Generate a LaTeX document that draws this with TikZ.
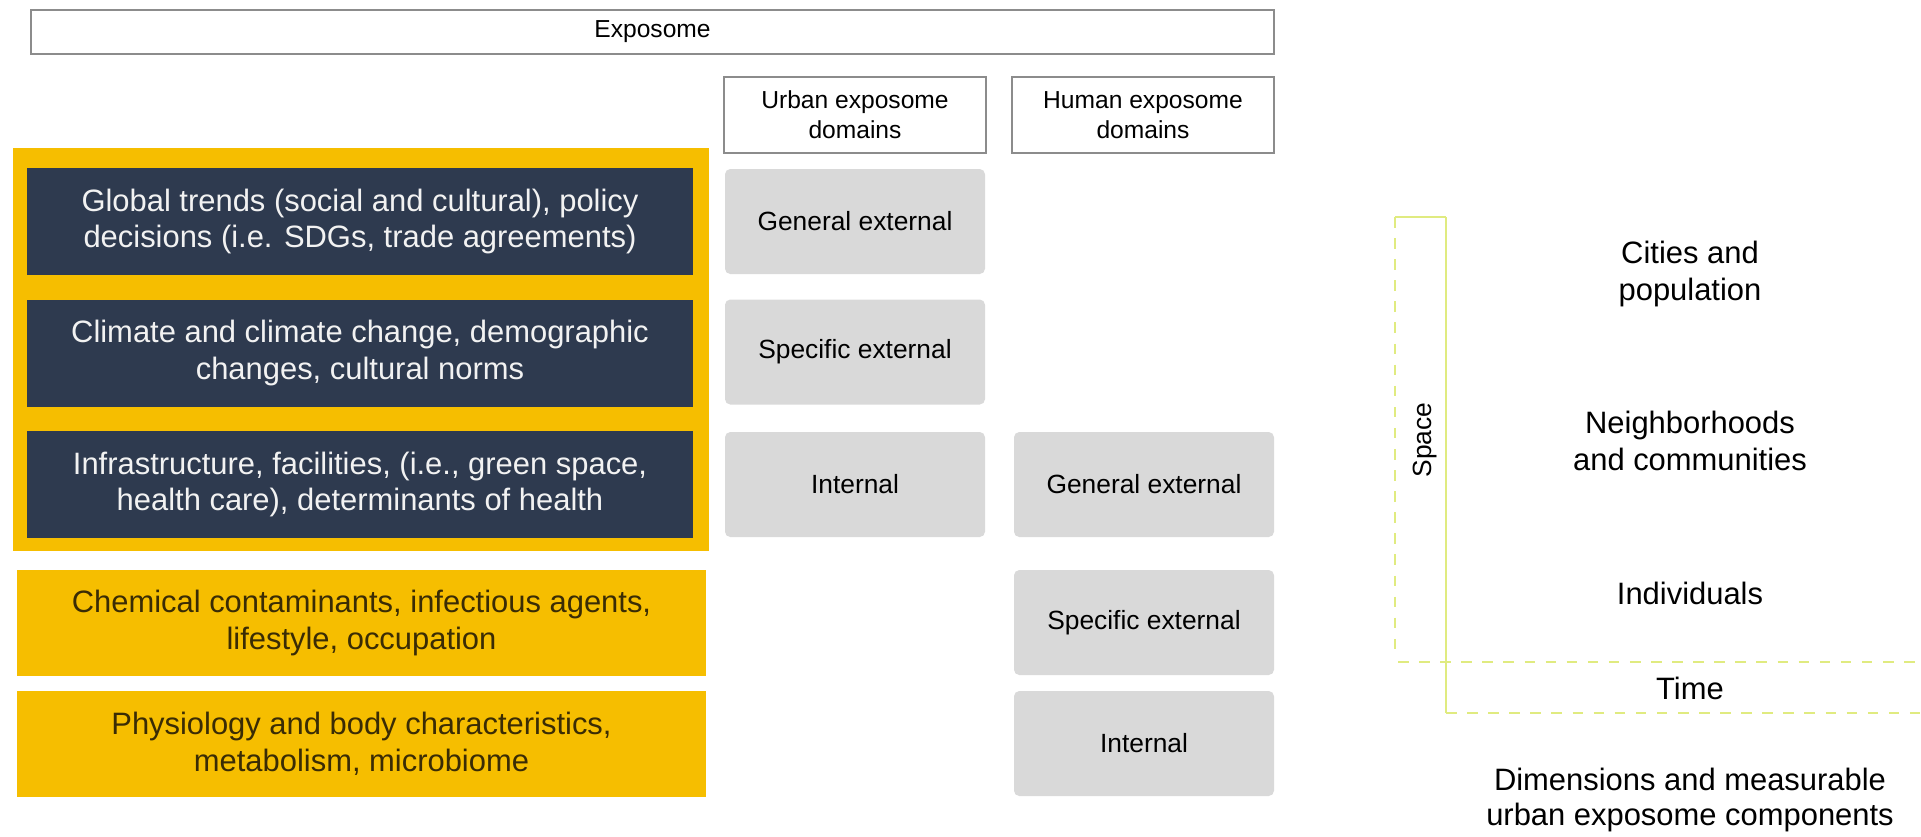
\documentclass[tikz,border=0pt]{standalone}
\usepackage{fontspec}
\setmainfont{Liberation Sans}
\definecolor{navy}{HTML}{2E3A4F}
\definecolor{gold}{HTML}{F6BE00}
\definecolor{boxgray}{HTML}{D9D9D9}
\definecolor{goldtext}{HTML}{3A2C05}
\definecolor{axisgreen}{HTML}{E0EB80}

\begin{document}
\begin{tikzpicture}[
		every node/.style={font=\fontsize{8.8}{10.5}\selectfont, align=center, inner sep=0pt},
		outline/.style={draw=gray!90, line width=0.5pt, fill=white},
		header/.style={outline, minimum width=2.62cm, minimum height=0.76cm, font=\fontsize{7}{8.6}\selectfont},
		darkbox/.style={fill=navy, text=white!90!gray, minimum width=6.66cm, minimum height=1.07cm},
		goldbox/.style={fill=gold, text=goldtext, minimum width=6.89cm, minimum height=1.06cm},
		graybox/.style={fill=boxgray, rounded corners=1.5pt, minimum width=2.6cm, minimum height=1.05cm, font=\fontsize{7.5}{9}\selectfont},
		axisline/.style={draw=axisgreen, line width=0.8pt}
	]
		\useasboundingbox (0,0) rectangle (19.21,-8.36);
		% top row
		\node[outline, minimum width=12.43cm, minimum height=0.44cm, font=\fontsize{7}{8.6}\selectfont] (expo) at (6.525,-0.32) {Exposome};
		\node[header] (urbanhead) at (8.55,-1.15) {Urban exposome\\domains};
		\node[header] (humanhead) at (11.43,-1.15) {Human exposome\\domains};
		% gold frame round the three dark rows
		\fill[gold] (0.13,-1.48) rectangle (7.09,-5.51);
		\node[darkbox] (global) at (3.60,-2.215) {Global trends (social and cultural), policy\\decisions (i.e. SDGs, trade agreements)};
		\node[darkbox] (climate) at (3.60,-3.53) {Climate and climate change, demographic\\changes, cultural norms};
		\node[darkbox] (infra) at (3.60,-4.845) {Infrastructure, facilities, (i.e., green space,\\health care), determinants of health};
		\node[goldbox] (chem) at (3.615,-6.23) {Chemical contaminants, infectious agents,\\lifestyle, occupation};
		\node[goldbox] (physio) at (3.615,-7.435) {Physiology and body characteristics,\\metabolism, microbiome};
		% domain columns
		\node[graybox] (ugeneral) at (8.55,-2.215) {General external};
		\node[graybox] (uspecific) at (8.55,-3.52) {Specific external};
		\node[graybox] (uinternal) at (8.55,-4.845) {Internal};
		\node[graybox] (hgeneral) at (11.44,-4.845) {General external};
		\node[graybox] (hspecific) at (11.44,-6.225) {Specific external};
		\node[graybox] (hinternal) at (11.44,-7.435) {Internal};
		% space and time axes
		\draw[axisline, dashed] (13.95,-2.17)--(13.95,-6.55);
		\draw[axisline] (13.95,-2.17)--(14.46,-2.17);
		\draw[axisline] (14.46,-2.17)--(14.46,-7.13);
		\draw[axisline, dashed] (13.98,-6.62)--(19.21,-6.62);
		\draw[axisline, dashed] (14.46,-7.13)--(19.21,-7.13);
		\node[rotate=90, font=\fontsize{7.5}{9}\selectfont] (space) at (14.25,-4.40) {Space};
		\node (cities) at (16.90,-2.74) {Cities and\\population};
		\node (neigh) at (16.90,-4.41) {Neighborhoods\\and communities};
		\node (indiv) at (16.90,-5.93) {Individuals};
		\node (time) at (16.90,-6.88) {Time};
		\node[font=\fontsize{8.8}{9.8}\selectfont] (dims) at (16.90,-8.00) {Dimensions and measurable\\urban exposome components};
	\end{tikzpicture}
\end{document}
